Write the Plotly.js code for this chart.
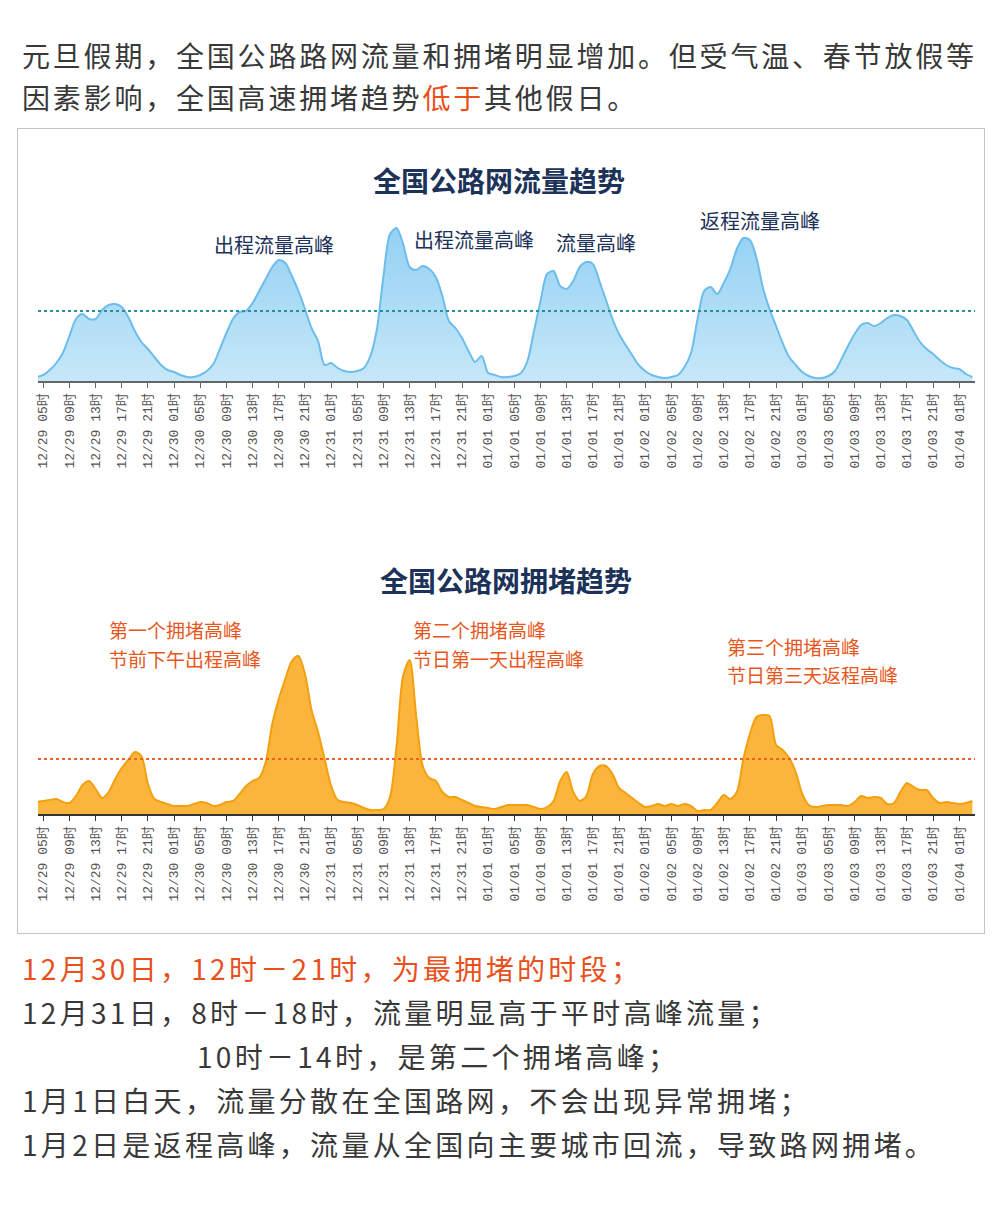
<!DOCTYPE html>
<html>
<head>
<meta charset="utf-8">
<script src="https://cdn.plot.ly/plotly-3.0.1.min.js"></script>
<style>
  html, body { margin: 0; padding: 0; background: #fff; }
  body { width: 1000px; height: 1211px; position: relative; overflow: hidden;
         font-family: "Noto Sans CJK SC", "Noto Sans", sans-serif; }
  .para { position: absolute; left: 22px; font-size: 28px; color: #383838; letter-spacing: 2.8px; white-space: nowrap; }
  #intro { top: 34px; line-height: 42px; }
  #notes { top: 946px; line-height: 44px; letter-spacing: 3.3px; }
  .hl { color: #e8501c; }
  #frame { position: absolute; left: 17px; top: 128px; width: 968px; height: 806px;
           box-sizing: border-box; border: 1px solid #c4c4c4; }
  #chart { position: absolute; left: 18px; top: 129px; width: 966px; height: 804px; }
</style>
</head>
<body>
<div id="intro" class="para">元旦假期，全国公路路网流量和拥堵明显增加。但受气温、春节放假等<br>因素影响，全国高速拥堵趋势<span class="hl">低于</span>其他假日。</div>
<div id="frame"></div>
<div id="chart"></div>
<div id="notes" class="para"><span class="hl">12月30日，12时－21时，为最拥堵的时段；</span><br>12月31日，8时－18时，流量明显高于平时高峰流量；<br><span style="padding-left:175px">10时－14时，是第二个拥堵高峰；</span><br>1月1日白天，流量分散在全国路网，不会出现异常拥堵；<br>1月2日是返程高峰，流量从全国向主要城市回流，导致路网拥堵。</div>
<script>
// Hourly series, from 12/29 04时 to 01/04 03时 (144 hours)
const flowValues = [
  4, 6, 11, 18, 28, 45, 62, 67, 62, 62, 71, 76, 77, 74, 64, 50, 39, 32, 24, 16,
  11, 9, 6, 4, 4, 6, 10, 17, 32, 48, 62, 69, 70, 78, 90, 102, 114, 121, 118, 105,
  90, 72, 53, 40, 16, 18, 13, 10, 9, 10, 13, 25, 52, 105, 147, 153, 137, 114, 111, 115,
  112, 104, 85, 60, 53, 43, 30, 19, 25, 8, 6, 4, 4, 5, 8, 20, 50, 80, 107, 110,
  95, 92, 100, 114, 119, 117, 100, 81, 62, 47, 36, 26, 16, 10, 6, 4, 3, 4, 6, 14,
  28, 62, 90, 94, 87, 98, 112, 132, 143, 141, 123, 93, 72, 55, 38, 24, 16, 9, 5, 3,
  3, 5, 10, 22, 35, 47, 56, 58, 55, 58, 63, 66, 65, 61, 50, 39, 32, 27, 21, 16,
  13, 12, 7, 4
];
const jamValues = [
  12, 13, 14, 15, 12, 11, 18, 29, 33, 25, 16, 22, 35, 46, 54, 62, 58, 30, 15, 12,
  10, 8, 8, 8, 10, 12, 11, 8, 9, 12, 13, 20, 28, 33, 36, 52, 90, 115, 135, 153,
  158, 140, 104, 82, 55, 28, 14, 12, 11, 9, 6, 4, 4, 5, 17, 68, 138, 154, 98, 48,
  36, 33, 22, 17, 17, 14, 11, 8, 7, 6, 5, 7, 9, 9, 9, 9, 7, 5, 7, 13,
  33, 42, 22, 13, 18, 40, 48, 48, 40, 26, 21, 16, 11, 7, 8, 10, 8, 10, 8, 10,
  8, 3, 4, 4, 11, 19, 15, 22, 55, 80, 97, 99, 98, 69, 64, 56, 42, 20, 9, 7,
  8, 9, 9, 9, 8, 12, 18, 16, 17, 16, 10, 11, 22, 31, 27, 24, 24, 16, 11, 12,
  11, 10, 11, 13
];
const flowAverage = 70;
const jamAverage = 55;

const tickLabels = [
  "12/29 05时", "12/29 09时", "12/29 13时", "12/29 17时", "12/29 21时",
  "12/30 01时", "12/30 05时", "12/30 09时", "12/30 13时", "12/30 17时", "12/30 21时",
  "12/31 01时", "12/31 05时", "12/31 09时", "12/31 13时", "12/31 17时", "12/31 21时",
  "01/01 01时", "01/01 05时", "01/01 09时", "01/01 13时", "01/01 17时", "01/01 21时",
  "01/02 01时", "01/02 05时", "01/02 09时", "01/02 13时", "01/02 17时", "01/02 21时",
  "01/03 01时", "01/03 05时", "01/03 09时", "01/03 13时", "01/03 17时", "01/03 21时",
  "01/04 01时"
];

const titles = ["全国公路网流量趋势", "全国公路网拥堵趋势"];
const flowNotes = ["出程流量高峰", "出程流量高峰", "流量高峰", "返程流量高峰"];
const jamNotes = [
  ["第一个拥堵高峰", "节前下午出程高峰"],
  ["第二个拥堵高峰", "节日第一天出程高峰"],
  ["第三个拥堵高峰", "节日第三天返程高峰"]
];

// hourly category labels
const start = Date.UTC(2016, 11, 29, 4);
const pad = n => String(n).padStart(2, "0");
const hours = flowValues.map((_, i) => {
  const d = new Date(start + i * 3600000);
  return pad(d.getUTCMonth() + 1) + "/" + pad(d.getUTCDate()) + " " + pad(d.getUTCHours()) + "时";
});

const CJK = '"Noto Sans CJK SC", sans-serif';
const tickFont = { family: '"Liberation Mono", "Noto Sans CJK SC", monospace', size: 13, color: "#555" };

function xAxis(anchor, lineColor) {
  return {
    anchor: anchor, type: "category", range: [0.2, hours.length - 0.6],
    tickmode: "array", tickvals: tickLabels, ticktext: tickLabels,
    tickangle: -90, tickfont: tickFont, ticks: "outside", ticklen: 5, tickwidth: 1,
    tickcolor: lineColor, showline: true, linecolor: lineColor, linewidth: 2,
    showgrid: false, zeroline: false, fixedrange: true
  };
}

const traces = [
  {
    x: hours, y: flowValues, xaxis: "x", yaxis: "y", type: "scatter", mode: "lines",
    line: { color: "#6cbdec", width: 2, shape: "spline", smoothing: 0.8 },
    fill: "tozeroy",
    fillgradient: { type: "vertical", colorscale: [[0, "#c6e7f8"], [1, "#94d1f3"]] },
    hoverinfo: "skip"
  },
  {
    x: hours, y: jamValues, xaxis: "x2", yaxis: "y2", type: "scatter", mode: "lines",
    line: { color: "#f3a010", width: 2, shape: "spline", smoothing: 0.8 },
    fill: "tozeroy", fillcolor: "#fcb53c",
    hoverinfo: "skip"
  }
];

const P = 685; // plot height in px
const W = 937;
const px = X => (X - 38) / W;
const py = Y => (814 - Y) / P;

const base = { xref: "paper", yref: "paper", showarrow: false, align: "left", borderpad: 0 };
const navy = "#1c3259";
const orange = "#e8561c";
const annotations = [
  Object.assign({}, base, { text: titles[0], x: px(499), y: py(180), xanchor: "center", yanchor: "middle",
    font: { family: CJK, size: 28, color: navy, weight: "bold" } }),
  Object.assign({}, base, { text: titles[1], x: px(506), y: py(580), xanchor: "center", yanchor: "middle",
    font: { family: CJK, size: 28, color: navy, weight: "bold" } })
];
const flowPos = [[213, 245], [413, 239], [555, 243], [699, 220]];
flowNotes.forEach((t, i) => annotations.push(Object.assign({}, base, {
  text: t, x: px(flowPos[i][0]), y: py(flowPos[i][1]), xanchor: "left", yanchor: "middle",
  font: { family: CJK, size: 20, color: navy } })));
const jamPos = [[108, 630], [412, 630], [726, 646]];
jamNotes.forEach((lines, i) => lines.forEach((t, j) => annotations.push(Object.assign({}, base, {
  text: t, x: px(jamPos[i][0]), y: py(jamPos[i][1] + 28 * j), xanchor: "left", yanchor: "middle",
  font: { family: CJK, size: 19, color: orange } }))));

const layout = {
  width: 966, height: 804,
  margin: { l: 20, r: 9, t: 0, b: 119 },
  paper_bgcolor: "#fff", plot_bgcolor: "rgba(0,0,0,0)",
  showlegend: false,
  xaxis: xAxis("y", "#666"),
  xaxis2: xAxis("y2", "#333"),
  yaxis: { domain: [py(381), py(381 - 160)], visible: false, range: [0, 160], fixedrange: true },
  yaxis2: { domain: [py(814), py(814 - 170)], visible: false, range: [0, 170], fixedrange: true },
  shapes: [
    { type: "line", xref: "x domain", yref: "y", x0: 0, x1: 1, y0: flowAverage, y1: flowAverage,
      line: { color: "#2a8f96", width: 2, dash: "dot" } },
    { type: "line", xref: "x2 domain", yref: "y2", x0: 0, x1: 1, y0: jamAverage, y1: jamAverage,
      line: { color: "#f0602a", width: 2, dash: "dot" } }
  ],
  annotations: annotations
};

Plotly.newPlot("chart", traces, layout, { staticPlot: true, displayModeBar: false });
</script>
</body>
</html>
